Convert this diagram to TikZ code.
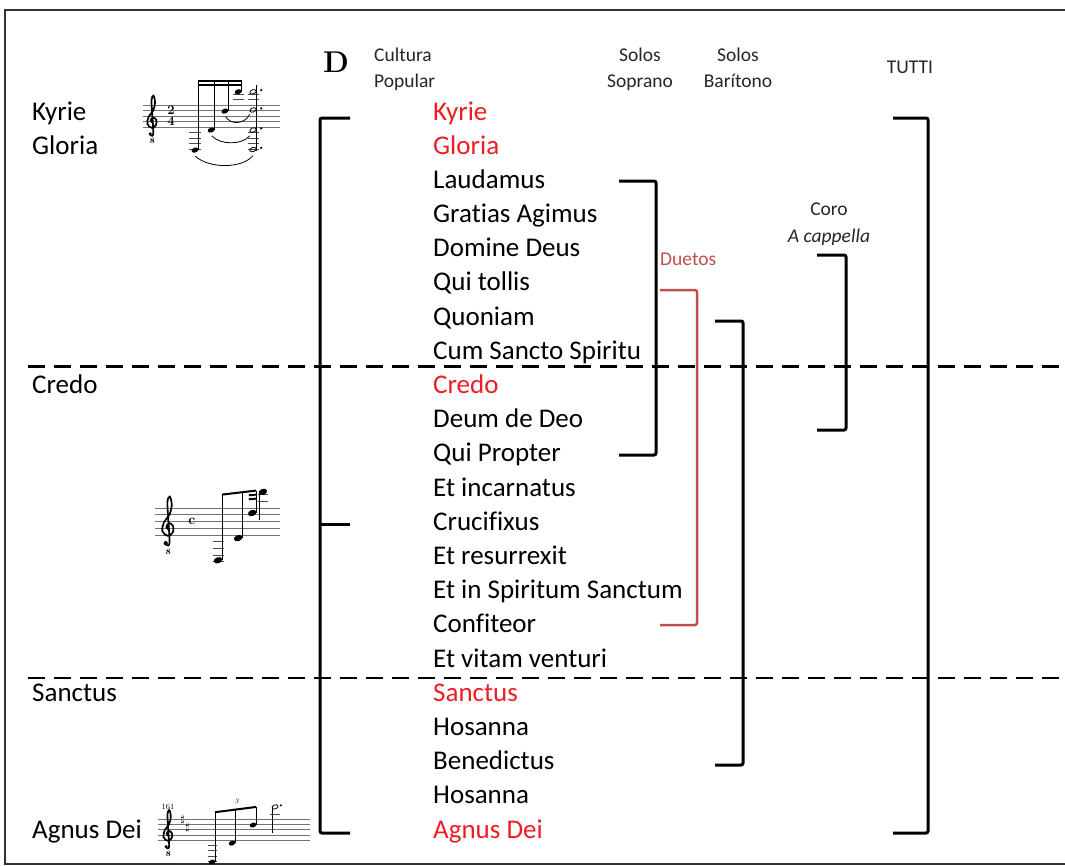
\documentclass[tikz,border=0pt]{standalone}
\usepackage{fontspec}
\setsansfont{Carlito}[Ligatures=NoCommon]
\usetikzlibrary{positioning}
\definecolor{MisaRed}{RGB}{238,28,36}
\definecolor{DuoRed}{RGB}{192,80,77}

\tikzset{
  mov/.style={anchor=base west,inner sep=0pt,font=\sffamily\fontsize{27}{32}\selectfont},
  hdr/.style={anchor=base,inner sep=0pt,text=black!85,font=\sffamily\fontsize{19.5}{24}\selectfont},
  brk/.style={line width=3pt,rounded corners=2pt},
  cutline/.style={line width=2.5pt,dash pattern=on 17pt off 9pt},
  staffline/.style={line width=0.5pt,black!55},
  ledger/.style={line width=0.5pt,black!70},
  stem/.style={line width=0.7pt},
  beam/.style={line width=2pt},
  slur/.style={line width=0.8pt},
  % treble clef with the small 8 below, in staff spaces
  gclef/.pic={
    \draw[line width=1.7pt,line cap=round] plot[smooth,tension=0.6] coordinates
      {(0.6,3.3) (0.15,2.85) (0.55,2.25) (1.15,2.7) (1.1,3.65) (0.35,4.15)
       (-0.45,3.45) (-0.2,2.1) (0.6,1.0) (0.95,-0.5) (0.65,-1.7) (0.3,-0.9)
       (0.42,1.5) (0.62,4.9) (0.4,5.6) (0.0,5.35)};
    \fill (0.05,5.25) circle (0.32);
    \node[inner sep=0pt,font=\rmfamily\bfseries\fontsize{8}{8}\selectfont] at (0.45,6.6) {8};
  }
}
\newcommand{\staff}[1]{\foreach \k in {0,...,4} \draw[staffline] (0,\k) -- (#1,\k);}
\newcommand{\fnote}[2]{\fill[rotate around={20:(#1,#2)}] (#1,#2) ellipse (0.65 and 0.45);}
\newcommand{\onote}[2]{\draw[line width=0.8pt,rotate around={20:(#1,#2)}] (#1,#2) ellipse (0.6 and 0.38);}
\newcommand{\ledgers}[3]{\foreach \k in {#3} \draw[ledger] (#1,\k) -- (#2,\k);}

\begin{document}
\begin{tikzpicture}[x=1pt,y=-1pt]
\useasboundingbox (0,0) rectangle (1065,865);

% frame
\draw[line width=2pt,black!80] (1065,9.5) -- (4.5,9.5) -- (4.5,863.5) -- (1065,863.5);

% headings
\node[inner sep=0pt,anchor=base west,font=\rmfamily\bfseries\fontsize{30}{36}\selectfont] (dd) at (323,72) {D};
\node[hdr,anchor=base west] (cul1) at (374,61) {Cultura};
\node[hdr,anchor=base west] (cul2) at (374,87) {Popular};
\node[hdr] (sop1) at (640,61) {Solos};
\node[hdr] (sop2) at (640,87) {Soprano};
\node[hdr] (bar1) at (738,61) {Solos};
\node[hdr] (bar2) at (738,87) {Barítono};
\node[hdr] (tutti) at (910,73) {TUTTI};
\node[hdr] (coro1) at (829,215) {Coro};
\node[hdr,font=\sffamily\itshape\fontsize{19.5}{24}\selectfont] (coro2) at (829,242) {A cappella};
\node[hdr,anchor=base west,text=DuoRed] (duo) at (660,265) {Duetos};

% movements of the mass
\foreach \txt/\col [count=\i from 0] in {Kyrie/MisaRed,Gloria/MisaRed,Laudamus/black,
    Gratias Agimus/black,Domine Deus/black,Qui tollis/black,Quoniam/black,
    Cum Sancto Spiritu/black,Credo/MisaRed,Deum de Deo/black,Qui Propter/black,
    Et incarnatus/black,Crucifixus/black,Et resurrexit/black,
    Et in Spiritum Sanctum/black,Confiteor/black,Et vitam venturi/black,
    Sanctus/MisaRed,Hosanna/black,Benedictus/black,Hosanna/black,Agnus Dei/MisaRed}
  \node[mov,text=\col] (m\i) at (433,{120+34.19*\i}) {\txt};

% parts on the left
\node[mov] (lky) at (32,120) {Kyrie};
\node[mov] (lgl) at (32,154.2) {Gloria};
\node[mov] (lcr) at (32,393.5) {Credo};
\node[mov] (lsa) at (32,701.2) {Sanctus};
\node[mov] (lag) at (32,838) {Agnus Dei};

% section breaks
\draw[cutline] (28,366.5) -- (1065,366.5);
\draw[cutline] (28,678) -- (1065,678);

% brackets
\draw[brk] (350,118) -- (320,118) -- (320,833) -- (350,833);
\draw[brk] (320,524) -- (350,524);
\draw[brk] (619,181) -- (656,181) -- (656,455) -- (619,455);
\draw[brk,DuoRed,line width=2.5pt] (660,290) -- (697,290) -- (697,625) -- (660,625);
\draw[brk] (715,321) -- (743,321) -- (743,765) -- (715,765);
\draw[brk] (817,255) -- (846,255) -- (846,430) -- (817,430);
\draw[brk] (893,118) -- (928,118) -- (928,833) -- (893,833);

% incipit: Kyrie / Gloria
\begin{scope}[shift={(143,105)},x=5.5pt,y=-5.5pt]
  \staff{24.9}
  \pic at (1.25,0) {gclef};
  \node[inner sep=0pt,font=\rmfamily\bfseries\fontsize{13}{13}\selectfont] at (5.1,1) {2};
  \node[inner sep=0pt,font=\rmfamily\bfseries\fontsize{13}{13}\selectfont] at (5.1,3) {4};
  \ledgers{8.4}{10.6}{5,6,7,8}
  \ledgers{16.3}{18.4}{-1,-2}
  \ledgers{19}{21.1}{-1,-2,5,6,7,8}
  \fnote{9.45}{8.2} \fnote{12.4}{4.55} \fnote{14.9}{1.1} \fnote{17.3}{-2.4}
  \foreach \sx/\sy in {10.05/8.2,13.0/4.55,15.5/1.1,17.9/-2.4}
    \draw[stem] (\sx,\sy) -- (\sx,-4.5);
  \draw[beam] (10.05,-4.4) -- (17.9,-4.4);
  \draw[beam] (10.05,-3.6) -- (17.9,-3.6);
  \foreach \ny in {-2.4,0.9,4.55,8.1} {\onote{20}{\ny} \fill (21.5,\ny-0.3) circle (0.22);}
  \draw[stem] (20.6,-3.6) -- (20.6,8.3);
  \draw[slur] (9.5,9.3) .. controls (12,11.6) and (18,11.6) .. (20,9.2);
  \draw[slur] (12.5,5.6) .. controls (14,7.3) and (18,7.3) .. (19.4,5.6);
  \draw[slur] (15,2.1) .. controls (16,3.7) and (18.5,3.5) .. (19.4,1.7);
\end{scope}

% incipit: Credo
\begin{scope}[shift={(155,508)},x=6.7pt,y=-6.7pt]
  \staff{18.7}
  \pic at (1.55,0) {gclef};
  \node[inner sep=0pt,font=\rmfamily\bfseries\fontsize{14}{14}\selectfont] at (5.5,2) {c};
  \ledgers{8.6}{10.3}{5,6,7,8}
  \ledgers{15.3}{16.9}{-1,-2}
  \fnote{9.4}{7.8} \fnote{12.4}{4.5} \fnote{14.5}{0.75}
  \draw[stem] (10,7.8) -- (10,-2.0);
  \draw[stem] (13,4.5) -- (13,-2.3);
  \draw[stem] (15.1,0.75) -- (15.1,-2.6);
  \draw[beam] (10,-2.0) -- (15.1,-2.6);
  \draw[beam] (14.0,-1.9) -- (15.1,-2.0);
  \draw[beam] (14.0,-1.3) -- (15.1,-1.4);
  \fnote{16.1}{-2.4}
  \draw[stem] (15.5,-2.4) -- (15.5,1.8);
\end{scope}

% incipit: Agnus Dei
\begin{scope}[shift={(158,819)},x=5.25pt,y=-5.25pt]
  \staff{29}
  \node[inner sep=0pt,font=\rmfamily\fontsize{8}{8}\selectfont] at (1.9,-2.3) {161};
  \pic at (1.5,0) {gclef};
  \node[inner sep=0pt,font=\fontsize{11}{11}\selectfont] at (4.7,0.2) {$\sharp$};
  \node[inner sep=0pt,font=\fontsize{11}{11}\selectfont] at (5.6,1.6) {$\sharp$};
  \ledgers{9.5}{11.2}{5,6,7,8}
  \ledgers{21.3}{23.3}{-1}
  \fnote{10.3}{8.2} \fnote{14.1}{4.6} \fnote{18.1}{1.15}
  \draw[stem] (10.9,8.2) -- (10.9,-1.3);
  \draw[stem] (14.7,4.6) -- (14.7,-1.8);
  \draw[stem] (18.7,1.15) -- (18.7,-2.3);
  \draw[beam] (10.9,-1.3) -- (18.7,-2.3);
  \node[inner sep=0pt,font=\rmfamily\itshape\fontsize{7}{7}\selectfont] at (15,-3.3) {3};
  \onote{22.3}{-2.3}
  \fill (23.4,-2.6) circle (0.22);
  \draw[stem] (21.75,-2.3) -- (21.75,2.6);
\end{scope}
\end{tikzpicture}
\end{document}
